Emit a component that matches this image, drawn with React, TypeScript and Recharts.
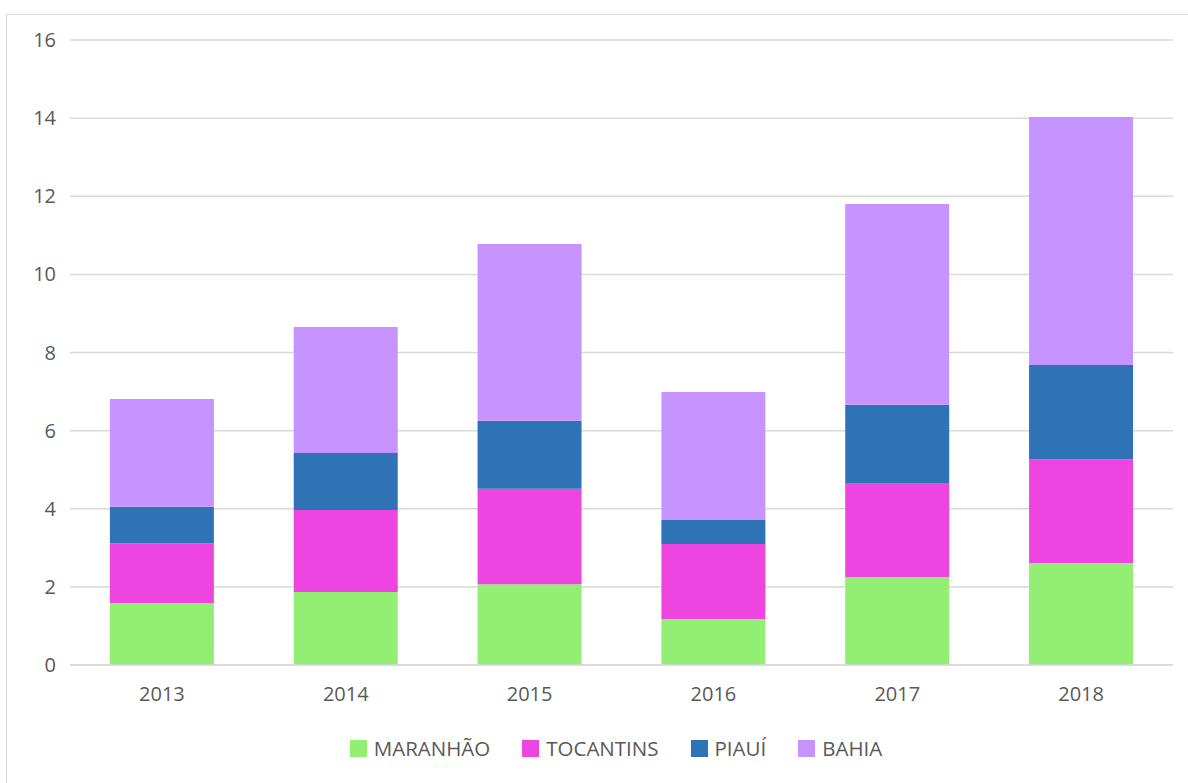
import { BarChart, Bar, XAxis, YAxis, CartesianGrid, Legend } from "recharts";

const years = ["2013", "2014", "2015", "2016", "2017", "2018"];
const maranhao = [1.59, 1.87, 2.07, 1.18, 2.25, 2.61];
const tocantins = [1.53, 2.1, 2.44, 1.92, 2.41, 2.66];
const piaui = [0.93, 1.46, 1.74, 0.61, 2.0, 2.41];
const bahia = [2.76, 3.22, 4.53, 3.28, 5.14, 6.35];
const yTicks = [0, 2, 4, 6, 8, 10, 12, 14, 16];

const series = [
  { key: "MARANHÃO", color: "#93ef73" },
  { key: "TOCANTINS", color: "#ee45e0" },
  { key: "PIAUÍ", color: "#2e73b6" },
  { key: "BAHIA", color: "#c794ff" },
];

const data = years.map((year, i) => ({
  year,
  "MARANHÃO": maranhao[i],
  TOCANTINS: tocantins[i],
  "PIAUÍ": piaui[i],
  BAHIA: bahia[i],
}));

const font = "'Open Sans', 'Noto Sans', sans-serif";

// legend follows the series order, not recharts' alphabetical payload
function LegendContent() {
  return (
    <div style={{ display: "flex", justifyContent: "center", fontFamily: font, fontSize: 20.5, color: "#595959", lineHeight: "30px" }}>
      {series.map((s) => (
        <div key={s.key} style={{ display: "flex", alignItems: "center", marginRight: 32 }}>
          <span style={{ display: "inline-block", width: 17, height: 17, background: s.color, marginRight: 7 }} />
          <span>{s.key}</span>
        </div>
      ))}
    </div>
  );
}

export default function App() {
  return (
    <div style={{ position: "absolute", left: 0, top: 0, width: 1188, height: 783, background: "#fff", overflow: "hidden" }}>
      <div
        style={{
          position: "absolute",
          left: 6,
          top: 14,
          width: 1300,
          height: 900,
          border: "1px solid #d9d9d9",
        }}
      />
      <BarChart
        width={1188}
        height={783}
        data={data}
        margin={{ top: 40, right: 15, left: 10, bottom: 58 }}
        barCategoryGap="21.7%"
        style={{ position: "absolute", left: 0, top: 0 }}
      >
        <CartesianGrid vertical={false} stroke="#d9d9d9" strokeWidth={1.5} />
        <XAxis
          dataKey="year"
          height={30}
          axisLine={{ stroke: "#d9d9d9", strokeWidth: 1.5 }}
          tickLine={false}
          tickMargin={16}
          tick={{ fill: "#595959", fontSize: 20, fontFamily: font }}
        />
        <YAxis
          width={60}
          domain={[0, 16]}
          ticks={yTicks}
          axisLine={false}
          tickLine={false}
          tickMargin={8}
          tick={{ fill: "#595959", fontSize: 20, fontFamily: font }}
        />
        <Legend
          content={<LegendContent />}
          wrapperStyle={{ position: "absolute", top: 733, left: 38, width: 1188, height: 30 }}
        />
        {series.map((s) => (
          <Bar key={s.key} dataKey={s.key} stackId="a" fill={s.color} isAnimationActive={false} />
        ))}
      </BarChart>
    </div>
  );
}
